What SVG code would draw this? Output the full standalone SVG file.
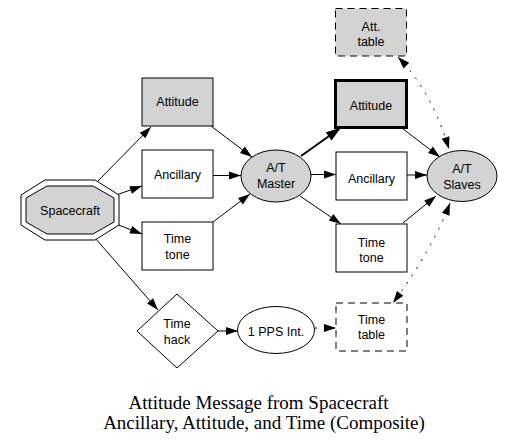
<svg xmlns="http://www.w3.org/2000/svg" width="516" height="447" viewBox="0 0 516 447">
<style>
.n{fill:#fff;stroke:#000;stroke-width:1}
.g{fill:#d3d3d3}
.dash{stroke-dasharray:7,5}
.bold{stroke-width:3}
text{font-family:"Liberation Sans",Arial,sans-serif;font-size:12.5px;fill:#000;text-anchor:middle}
.cap{font-family:"Liberation Serif","Times New Roman",serif;font-size:19px}
.e{fill:none;stroke:#000;stroke-width:1}
.eb{fill:none;stroke:#000;stroke-width:2}
.ed{fill:none;stroke:#000;stroke-width:1;stroke-dasharray:2,7}
</style>
<defs>
<marker id="ah" markerUnits="userSpaceOnUse" markerWidth="13" markerHeight="9" refX="12" refY="4" orient="auto-start-reverse" overflow="visible">
<path d="M0,0 L12,4 L0,8 z" fill="#000"/>
</marker>
<marker id="ahb" markerUnits="userSpaceOnUse" markerWidth="13" markerHeight="9" refX="12" refY="4" orient="auto" overflow="visible">
<path d="M0,0 L12,4 L0,8 z" fill="#000" stroke="#000" stroke-width="1.5"/>
</marker>
</defs>
<g id="edges">
<path class="e" d="M96,183 L151,127" marker-end="url(#ah)"/>
<path class="e" d="M116,195 L142,186" marker-end="url(#ah)"/>
<path class="e" d="M116,224 L142,234" marker-end="url(#ah)"/>
<path class="e" d="M95,238 L158,310" marker-end="url(#ah)"/>
<path class="e" d="M211,126 L252,157" marker-end="url(#ah)"/>
<path class="e" d="M213,175.5 L241,175.5" marker-end="url(#ah)"/>
<path class="e" d="M213,222 L250,194" marker-end="url(#ah)"/>
<path class="eb" d="M301,156 L339,129" marker-end="url(#ahb)"/>
<path class="e" d="M311,174.5 L336,174.5" marker-end="url(#ah)"/>
<path class="e" d="M300,196 L341,224" marker-end="url(#ah)"/>
<path class="e" d="M403,129 L440,157" marker-end="url(#ah)"/>
<path class="e" d="M407,175 L427,175" marker-end="url(#ah)"/>
<path class="e" d="M403,223 L436,196" marker-end="url(#ah)"/>
<path class="ed" d="M398,57 Q432,92 449,149" marker-start="url(#ah)" marker-end="url(#ah)"/>
<path class="ed" d="M450,203 Q432,250 393,303" marker-start="url(#ah)" marker-end="url(#ah)"/>
<path class="e" d="M218,331 L238,331" marker-end="url(#ah)"/>
<path class="ed" d="M315,328 L336,328" marker-end="url(#ah)"/>
</g>
<g id="spacecraft">
<polygon class="n" points="45,180 95,180 119,195 119,225 95,240 45,240 21,225 21,195"/>
<polygon class="n g" points="47,186 93,186 114,198 114,222 93,234 47,234 26,222 26,198"/>
<text x="70" y="214.5">Spacecraft</text>
</g>
<g id="attitude1">
<rect class="n g" x="142" y="78" width="71" height="48"/>
<text x="177.5" y="106">Attitude</text>
</g>
<g id="ancillary1">
<rect class="n" x="142" y="150" width="71" height="48"/>
<text x="177.5" y="179">Ancillary</text>
</g>
<g id="timetone1">
<rect class="n" x="142" y="222" width="71" height="48"/>
<text x="177.5" y="243">Time</text>
<text x="177.5" y="258.5">tone</text>
</g>
<g id="timehack">
<polygon class="n" points="177,294 218,331 177,368 137,331"/>
<text x="177" y="328.3">Time</text>
<text x="177" y="344">hack</text>
</g>
<g id="atmaster">
<ellipse class="n g" cx="276" cy="176" rx="35" ry="26"/>
<text x="276" y="172.3">A/T</text>
<text x="276" y="187.7">Master</text>
</g>
<g id="pps">
<ellipse class="n" cx="276" cy="330" rx="38.5" ry="23.5"/>
<text x="276" y="336">1 PPS Int.</text>
</g>
<g id="atttable">
<rect class="n g dash" x="335.5" y="8.5" width="71" height="47.5"/>
<text x="371" y="31">Att.</text>
<text x="371" y="45.7">table</text>
</g>
<g id="attitude2">
<rect class="n g bold" x="335.5" y="80.5" width="71" height="47"/>
<text x="371" y="110">Attitude</text>
</g>
<g id="ancillary2">
<rect class="n" x="336" y="152" width="71" height="48"/>
<text x="371.5" y="182.7">Ancillary</text>
</g>
<g id="timetone2">
<rect class="n" x="336" y="224" width="71" height="48"/>
<text x="371.5" y="246.7">Time</text>
<text x="371.5" y="262.3">tone</text>
</g>
<g id="timetable">
<rect class="n dash" x="336" y="303" width="71" height="48"/>
<text x="371.5" y="324">Time</text>
<text x="371.5" y="339.3">table</text>
</g>
<g id="atslaves">
<ellipse class="n g" cx="462" cy="176" rx="35" ry="25.5"/>
<text x="462" y="173.3">A/T</text>
<text x="462" y="189">Slaves</text>
</g>
<g id="caption">
<text class="cap" x="258.5" y="409">Attitude Message from Spacecraft</text>
<text class="cap" x="264" y="429">Ancillary, Attitude, and Time (Composite)</text>
</g>
</svg>
